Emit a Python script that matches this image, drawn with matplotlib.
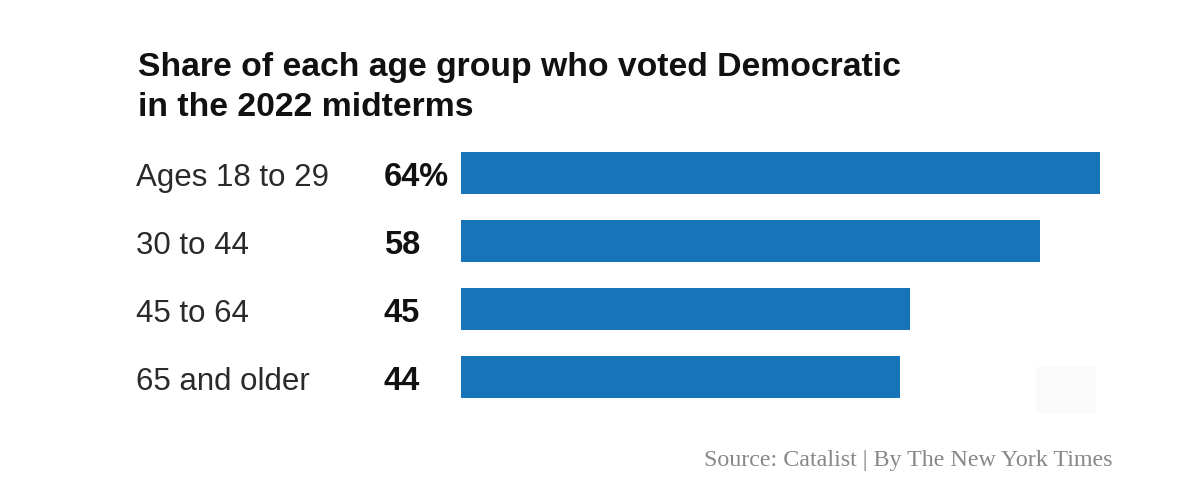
import matplotlib
matplotlib.use("Agg")
import matplotlib.pyplot as plt
import matplotlib.transforms as mtransforms
from matplotlib.patches import FancyBboxPatch

# data
groups = ["Ages 18 to 29", "30 to 44", "45 to 64", "65 and older"]
shares = [64, 58, 45, 44]
value_labels = ["64%", "58", "45", "44"]

title_lines = ["Share of each age group who voted Democratic", "in the 2022 midterms"]
source = "Source: Catalist | By The New York Times"

W, H = 1200, 498
fig = plt.figure(figsize=(W / 100, H / 100), dpi=100)
fig.patch.set_facecolor("white")

# axes placed so that x=0 sits at px 461 and x=64 at px 1100
ax = fig.add_axes([461 / W, 1 - 411 / H, (1100 - 461) / W, (411 - 139) / H])
ypos = list(range(len(groups)))
ax.barh(ypos, shares, height=0.63, color="#1874b8")
ax.set_xlim(0, 64)
ax.set_ylim(len(groups) - 0.5, -0.5)
ax.axis("off")

# x in figure coords, y in data coords
tr = mtransforms.blended_transform_factory(fig.transFigure, ax.transData)
for y, g, v in zip(ypos, groups, value_labels):
    ax.text(136 / W, y + 0.19, g, transform=tr, fontsize=22.5,
            family="Liberation Sans", color="#2a2a2a", va="baseline", ha="left")
    ax.text(384 / W, y + 0.19, v, transform=tr, fontsize=23.5, fontweight="bold",
            family="Liberation Sans", color="#111111", va="baseline", ha="left")

for i, line in enumerate(title_lines):
    fig.text(138 / W, 1 - (76 + 40 * i) / H, line, fontsize=24.3, fontweight="bold",
             family="Liberation Sans", color="#111111", va="baseline", ha="left")

fig.text(1113 / W, 1 - 466 / H, source, fontsize=17.3, family="Liberation Serif",
         color="#888888", va="baseline", ha="right")

# faint download button in the corner
btn = FancyBboxPatch((1036 / W, 1 - 414 / H), 60 / W, 48 / H,
                     boxstyle="round,pad=0,rounding_size=0.004",
                     transform=fig.transFigure, facecolor="#fafafa",
                     edgecolor="none")
fig.patches.append(btn)

fig.savefig("out.png", dpi=100, facecolor="white")
